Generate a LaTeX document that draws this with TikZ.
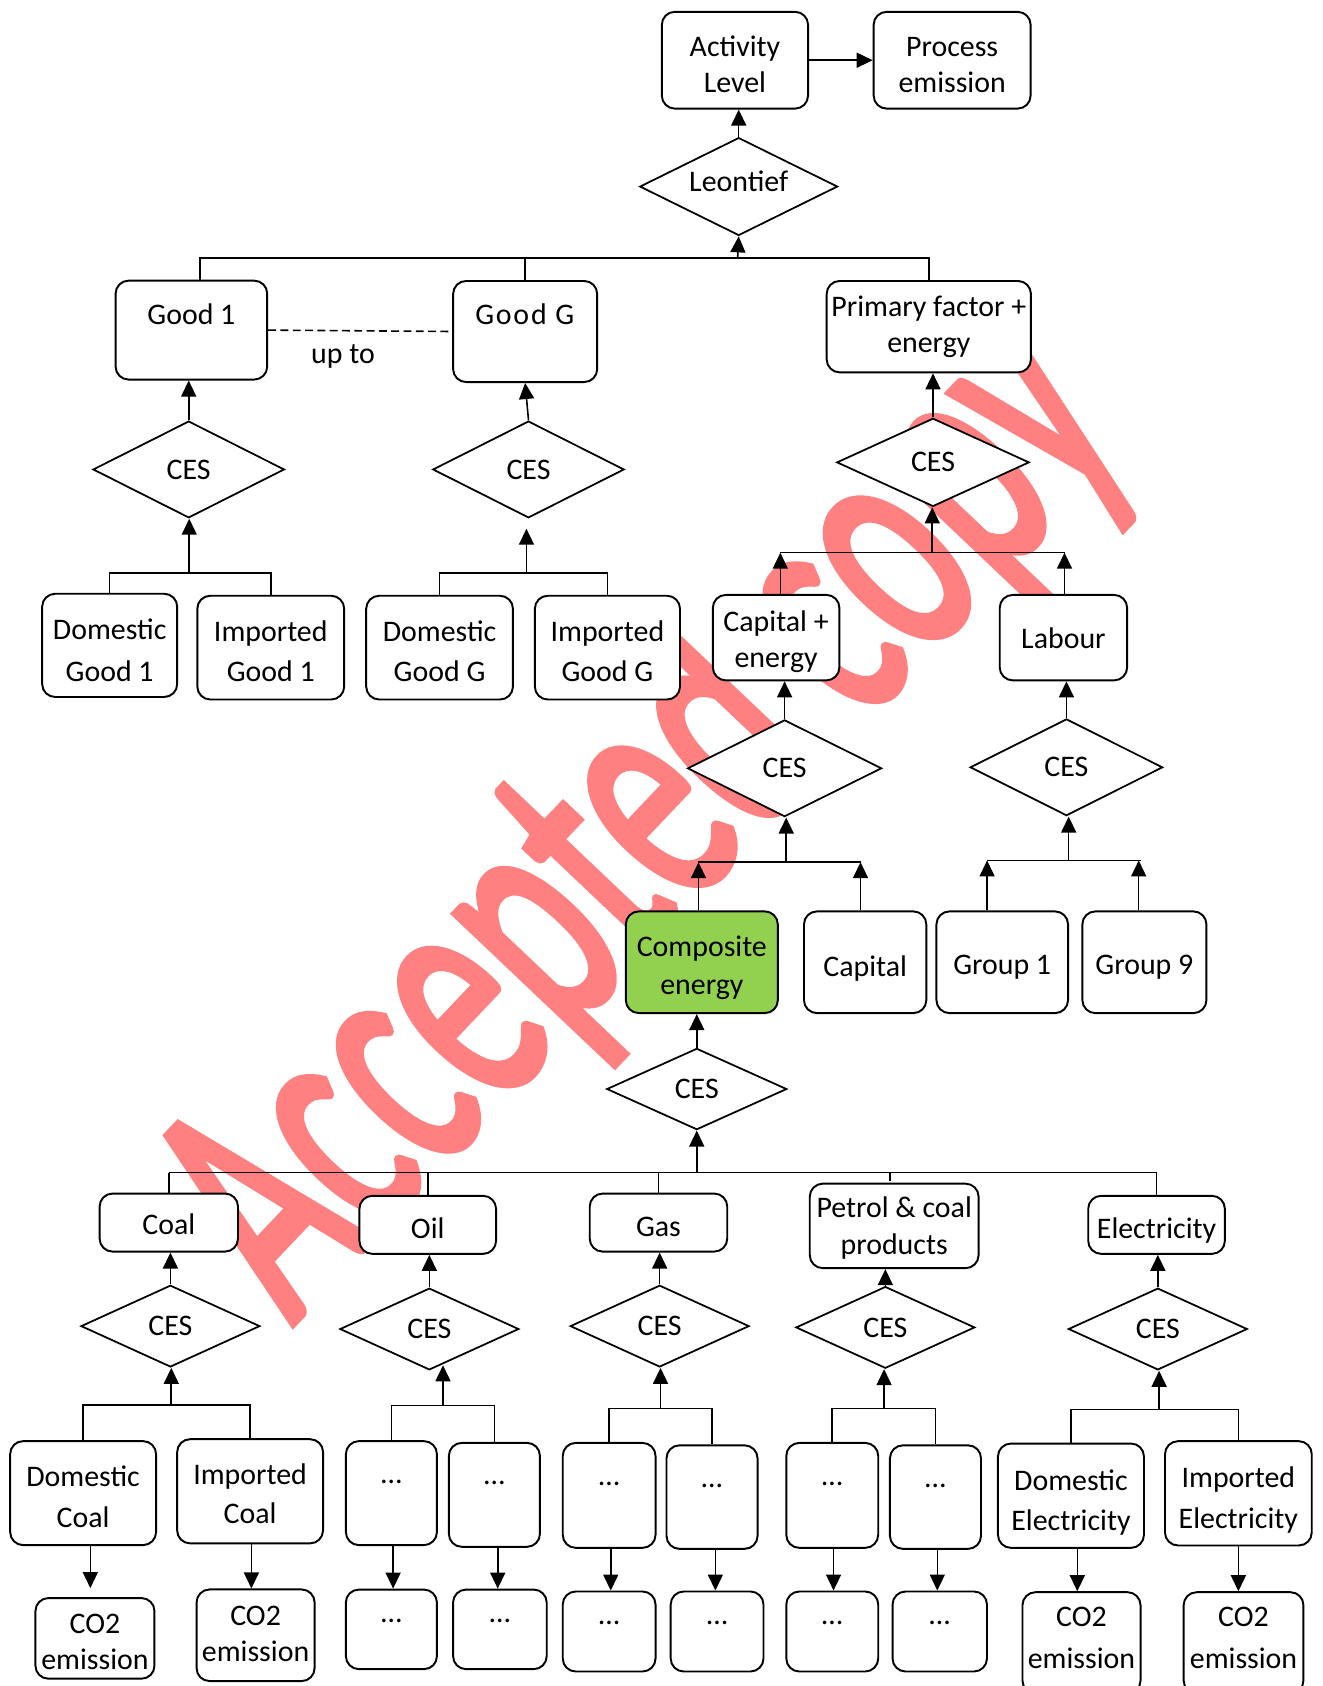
\documentclass[tikz,border=0pt]{standalone}
\usepackage{fontspec}
\setmainfont{Carlito}
\usepackage{graphicx}
\usetikzlibrary{shapes.geometric,arrows.meta}
\definecolor{cegreen}{HTML}{92D050}
\definecolor{wmred}{RGB}{255,128,128}
\newcommand\txtfont{\fontsize{17}{20.6}\selectfont}
% two centred lines, baseline = first line
\newcommand\twoline[3][0pt]{\vtop{\halign{\hfil##\hfil\cr #2\cr\noalign{\vskip#1}#3\cr}}}
\tikzset{
  sz/.style 2 args={minimum width=#1*0.0215cm, minimum height=#2*0.0215cm},
  box/.style={draw, rounded corners=0.26cm, line width=1.1pt, fill=white, inner sep=0pt},
  ces/.style={draw, diamond, aspect=2, line width=1pt, fill=white, inner sep=0pt, font=\txtfont},
  lbl/.style={inner sep=0pt, font=\txtfont, anchor=base, yshift=-0.0645cm},
  dots/.style={inner sep=0pt, font=\txtfont},
  conn/.style={line width=0.9pt},
  arr/.style={conn, -{Triangle[length=0.32cm, width=0.3cm]}},
  dashline/.style={conn, dash pattern=on 4.5pt off 2.5pt},
}
\begin{document}
\begin{tikzpicture}[x=0.0215cm, y=-0.0215cm]
\useasboundingbox (0,0) rectangle (1230,1568);
\clip (0,0) rectangle (1230,1568);
% watermark
\node[text=wmred, rotate=46.5, inner sep=0pt] (wm) at (600,762) {\scalebox{0.6}[1]{\fontsize{195}{195}\selectfont\addfontfeatures{FakeBold=2.5}Accepted copy}};
% top
\node[box, sz={136}{90}] (act) at (683.5,56) {};
\node[lbl] (actt) at (683.5,49.5) {\twoline{Activity}{Level}};
\node[box, sz={146}{90}] (proc) at (885.5,56) {};
\node[lbl] (proct) at (885.5,49.5) {\twoline{Process}{emission}};
\node[ces, sz={184}{91}] (leon) at (687,173.5) {};
\node[dots] (leont) at (687,169) {Leontief};
\coordinate (bT) at (686,240);
\node[box, sz={141}{92}] (g1) at (178,307) {};
\node[lbl] (g1t) at (178,299) {Good 1};
\node[box, sz={134}{94}] (gG) at (488.4,308.3) {};
\node[lbl] (gGt) at (488,299) {\addfontfeatures{LetterSpace=6}Good G};
\node[box, sz={190}{85}] (pf) at (863.8,303.8) {};
\node[lbl] (pft) at (863.8,291.5) {\twoline{Primary factor +}{energy}};
\node[lbl] (upto) at (319,335) {up to};
\node[ces, sz={178}{90}] (c1) at (175.5,436.6) {CES};
\node[ces, sz={178}{90}] (cG) at (491.5,436.6) {CES};
\node[ces, sz={179}{82}] (cP) at (867.7,430) {CES};
\coordinate (b1) at (176,533);
\coordinate (bG) at (489.6,533);
\node[box, sz={125.6}{96}] (dg1) at (102,600.2) {};
\node[lbl] (dg1t) at (102,592) {\twoline[2.9pt]{Domestic}{Good 1}};
\node[box, sz={136.6}{96.5}] (ig1) at (251.8,602.3) {};
\node[lbl] (ig1t) at (251.8,593.5) {\twoline[2.2pt]{Imported}{Good 1}};
\node[box, sz={136.5}{96.5}] (dgG) at (408.8,602.3) {};
\node[lbl] (dgGt) at (408.8,593.5) {\twoline[2.4pt]{Domestic}{Good G}};
\node[box, sz={135}{96.5}] (igG) at (564.9,602.3) {};
\node[lbl] (igGt) at (564.9,593.5) {\twoline[2.4pt]{Imported}{Good G}};
% primary factor branch
\coordinate (bP) at (867,514);
\node[box, sz={117.7}{79.5}] (capE) at (721.8,593) {};
\node[lbl] (capEt) at (721.8,584) {\twoline{Capital +}{energy}};
\node[box, sz={118.5}{79.5}] (lab) at (989,593) {};
\node[lbl] (labt) at (989,600.5) {Labour};
\node[ces, sz={180.5}{90}] (cC) at (729.7,714.5) {CES};
\node[ces, sz={179}{90}] (cL) at (991.8,713.6) {CES};
\coordinate (bC) at (731.2,801.8);
\coordinate (bL) at (993.9,800.2);
\node[box, fill=cegreen, sz={141.4}{94.6}] (ce) at (652.7,894.9) {};
\node[lbl] (cet) at (652.7,887) {\twoline[0.8pt]{Composite}{energy}};
\node[box, sz={113.8}{94.6}] (capb) at (804.6,894.9) {};
\node[lbl] (capbt) at (804.6,905) {Capital};
\node[box, sz={122.4}{94.6}] (gr1) at (932.1,894.9) {};
\node[lbl] (gr1t) at (932.1,903.5) {Group 1};
\node[box, sz={115.4}{94.6}] (gr9) at (1064.3,894.9) {};
\node[lbl] (gr9t) at (1064.3,903.5) {Group 9};
\node[ces, sz={167.4}{75.6}] (cE) at (648,1012.8) {CES};
\coordinate (bM) at (648,1090.5);
% energy carriers
\node[box, sz={128.7}{54}] (coal) at (157,1137) {};
\node[lbl] (coalt) at (157,1145.5) {Coal};
\node[box, sz={127.1}{54}] (oil) at (397.8,1139.1) {};
\node[lbl] (oilt) at (397.8,1148.5) {Oil};
\node[box, sz={127.9}{54}] (gas) at (612.4,1137) {};
\node[lbl] (gast) at (612.4,1147) {Gas};
\node[box, sz={157}{78.6}] (petrol) at (831.6,1140.1) {};
\node[lbl] (petrolt) at (831.6,1129.6) {\twoline{Petrol \& coal}{products}};
\node[box, sz={127.1}{54}] (elec) at (1075.6,1139.1) {};
\node[lbl] (elect) at (1075.6,1149) {Electricity};
\node[ces, sz={166.4}{76}] (cCoal) at (158.5,1233.3) {CES};
\node[ces, sz={166.4}{76}] (cOil) at (399.3,1236) {CES};
\node[ces, sz={166.4}{76}] (cGas) at (613.5,1233.3) {CES};
\node[ces, sz={166.4}{76}] (cPet) at (823.4,1234.5) {CES};
\node[ces, sz={166.4}{76}] (cElec) at (1076.8,1236) {CES};
\coordinate (sbC) at (159.3,1306.9);
\coordinate (sbO) at (412,1307);
\coordinate (sbG) at (614.3,1309.8);
\coordinate (sbP) at (822.2,1309.8);
\coordinate (sbE) at (1078,1310.7);
% sources
\node[box, sz={135.7}{96.7}] (dcoal) at (77.3,1388.6) {};
\node[lbl] (dcoalt) at (77.3,1379.2) {\twoline[2.7pt]{Domestic}{Coal}};
\node[box, sz={135.7}{96.9}] (icoal) at (232.6,1386.9) {};
\node[lbl] (icoalt) at (232.6,1377.6) {\twoline[1.8pt]{Imported}{Coal}};
\node[box, sz={84.7}{96.7}] (o1) at (364,1388.6) {};
\node[box, sz={84.7}{96.7}] (o2) at (459.8,1390.2) {};
\node[box, sz={86.3}{97.6}] (ga1) at (566.5,1390.7) {};
\node[box, sz={84.7}{96.3}] (ga2) at (662.2,1392.3) {};
\node[box, sz={85.5}{97.6}] (p1) at (774,1390.7) {};
\node[box, sz={84.7}{96.3}] (p2) at (870,1392.3) {};
\node[box, sz={135.8}{97}] (de) at (996,1391) {};
\node[lbl] (det) at (996,1382.7) {\twoline[2.7pt]{Domestic}{Electricity}};
\node[box, sz={136.5}{97}] (ie) at (1151.7,1388.8) {};
\node[lbl] (iet) at (1151.7,1380.8) {\twoline[2.3pt]{Imported}{Electricity}};
\node[dots] (o1t) at (364,1378) {…};
\node[dots] (o2t) at (459.8,1379.5) {…};
\node[dots] (ga1t) at (566.5,1380) {…};
\node[dots] (ga2t) at (662.2,1381.5) {…};
\node[dots] (p1t) at (774,1380) {…};
\node[dots] (p2t) at (870,1381.5) {…};
% emissions
\node[box, sz={110.7}{75}] (co2a) at (88.3,1523.7) {};
\node[lbl] (co2at) at (88.3,1516) {\twoline{CO2}{emission}};
\node[box, sz={109.8}{85.2}] (co2b) at (237.7,1520.8) {};
\node[lbl] (co2bt) at (237.7,1508.5) {\twoline{CO2}{emission}};
\node[box, sz={84.7}{74}] (e1) at (364,1515.3) {};
\node[box, sz={87.1}{74}] (e2) at (464.9,1515.3) {};
\node[box, sz={86.3}{74.4}] (e3) at (566.5,1517.3) {};
\node[box, sz={86.3}{74.4}] (e4) at (666.9,1517.3) {};
\node[box, sz={85.5}{74.4}] (e5) at (774,1517.3) {};
\node[box, sz={87.8}{74.4}] (e6) at (874,1517.3) {};
\node[dots] (e1t) at (364,1507) {…};
\node[dots] (e2t) at (464.9,1507) {…};
\node[dots] (e3t) at (566.5,1509) {…};
\node[dots] (e4t) at (666.9,1509) {…};
\node[dots] (e5t) at (774,1509) {…};
\node[dots] (e6t) at (874,1509) {…};
\node[box, sz={109.8}{94.3}] (co2c) at (1005.8,1527.9) {};
\node[lbl] (co2ct) at (1005.8,1510) {\twoline[2.8pt]{CO2}{emission}};
\node[box, sz={111.4}{94.3}] (co2d) at (1156.5,1527.9) {};
\node[lbl] (co2dt) at (1156.5,1510) {\twoline[2.8pt]{CO2}{emission}};
% ---------- connectors ----------
\draw[arr] (act.east) -- (proc.west);
\draw[arr] (leon.north) -- (leon.north |- act.south);
\draw[arr] (bT) -- (leon.south);
\draw[conn] (g1.north -| 186,0) |- (pf.north |- bT) -- (pf.north);
\draw[conn] (gG.north) -- (gG.north |- bT);
\draw[dashline] (g1.east) -- (gG.west);
\draw[arr] (c1.north) -- (c1.north |- g1.south);
\draw[arr] (cG.north) -- (gG.south);
\draw[arr] (cP.north) -- (cP.north |- pf.south);
\draw[conn] (dg1.north) |- (b1) -| (ig1.north);
\draw[arr] (b1) -- (b1 |- c1.south);
\draw[conn] (dgG.north) |- (bG) -| (igG.north);
\draw[arr, shorten >=0.2cm] (bG) -- (bG |- cG.south);
% primary factor
\draw[conn] (bP -| 725.7,0) -- (bP -| 990,0);
\draw[arr] (capE.north -| 725.7,0) -- (bP -| 725.7,0);
\draw[arr] (lab.north -| 990,0) -- (bP -| 990,0);
\draw[arr] (bP) -- (bP |- cP.south);
\draw[arr] (cC.north) -- (cC.north |- capE.south);
\draw[arr] (cL.north) -- (cL.north |- lab.south);
\draw[conn] (bC -| 649.6,0) -- (bC -| 800.3,0);
\draw[arr] (ce.north -| 649.6,0) -- (bC -| 649.6,0);
\draw[arr] (capb.north -| 800.3,0) -- (bC -| 800.3,0);
\draw[arr] (bC) -- (bC |- cC.south);
\draw[conn] (bL -| 918,0) -- (bL -| 1060.8,0);
\draw[arr] (gr1.north -| 918,0) -- (bL -| 918,0);
\draw[arr] (gr9.north -| 1059,0) -- (bL -| 1059,0);
\draw[arr] (bL) -- (bL |- cL.south);
\draw[arr] (cE.north) -- (cE.north |- ce.south);
\draw[arr] (bM) -- (cE.south);
% main energy bus
\draw[conn] (coal.north |- bM) -- (elec.north |- bM);
\draw[conn] (coal.north |- bM) -- (coal.north);
\draw[conn] (oil.north |- bM) -- (oil.north);
\draw[conn] (gas.north |- bM) -- (gas.north);
\draw[conn] (bM -| 827.6,0) -- ++(0,7.5);
\draw[conn] (elec.north |- bM) -- (elec.north);
\draw[arr] (cCoal.north) -- (cCoal.north |- coal.south);
\draw[arr] (cOil.north) -- (cOil.north |- oil.south);
\draw[arr] (cGas.north) -- (cGas.north |- gas.south);
\draw[arr] (cPet.north) -- (cPet.north |- petrol.south);
\draw[arr] (cElec.north) -- (cElec.north |- elec.south);
% sub buses
\draw[conn] (dcoal.north) |- (sbC) -| (icoal.north);
\draw[arr] (sbC) -- (sbC |- cCoal.south);
\draw[conn] (o1.north) |- (sbO) -| (o2.north);
\draw[arr, shorten >=-0.11cm] (sbO) -- (sbO |- cOil.south);
\draw[conn] (ga1.north) |- (sbG) -| (ga2.north);
\draw[arr] (sbG) -- (sbG |- cGas.south);
\draw[conn] (p1.north) |- (sbP) -| (p2.north);
\draw[arr] (sbP) -- (sbP |- cPet.south);
\draw[conn] (de.north) |- (sbE) -| (ie.north);
\draw[arr] (sbE) -- (sbE |- cElec.south);
% emission arrows
\draw[arr, shorten >=0.18cm] (dcoal.south -| 84,0) -- (co2a.north -| 84,0);
\draw[arr] (icoal.south -| 233.8,0) -- (co2b.north -| 233.8,0);
\draw[arr] (o1.south -| 365.6,0) -- (e1.north -| 365.6,0);
\draw[arr] (o2.south -| 462.9,0) -- (e2.north -| 462.9,0);
\draw[arr] (ga1.south -| 568,0) -- (e3.north -| 568,0);
\draw[arr] (ga2.south -| 665.3,0) -- (e4.north -| 665.3,0);
\draw[arr] (p1.south -| 775.2,0) -- (e5.north -| 775.2,0);
\draw[arr] (p2.south -| 871.7,0) -- (e6.north -| 871.7,0);
\draw[arr] (de.south -| 1001.9,0) -- (co2c.north -| 1001.9,0);
\draw[arr] (ie.south -| 1151.7,0) -- (co2d.north -| 1151.7,0);
\end{tikzpicture}
\end{document}
